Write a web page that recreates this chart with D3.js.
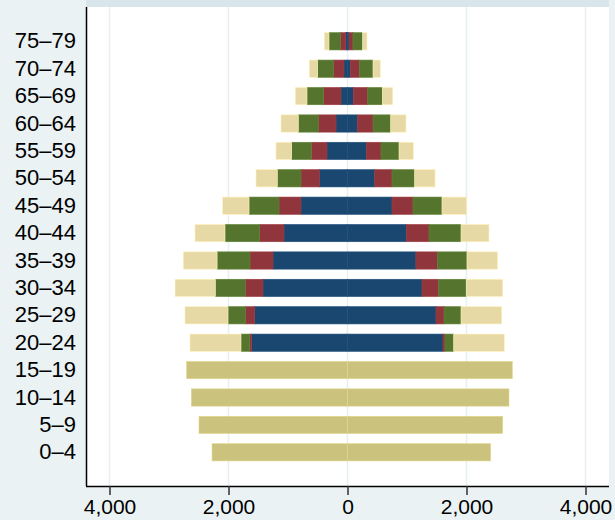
<!DOCTYPE html>
<html>
<head>
<meta charset="utf-8">
<script src="https://cdn.jsdelivr.net/npm/d3@7"></script>
<style>
  body { margin: 0; background: #eaf2f3; }
  svg { display: block; }
  .tick text { font-family: "Liberation Sans", Arial, sans-serif; font-size: 22px; fill: #000; }
  .x-axis .tick text { font-size: 21px; }
</style>
</head>
<body>
<svg id="chart" width="615" height="520"></svg>
<script>
var ageGroups = ['0–4', '5–9', '10–14', '15–19', '20–24', '25–29', '30–34', '35–39',
    '40–44', '45–49', '50–54', '55–59', '60–64', '65–69', '70–74', '75–79'];

// left side of the pyramid (drawn to negative x), segments from the centre out
var leftNavy   = [0, 0, 0, 0, 1610, 1560, 1420, 1252, 1067, 782, 474, 345, 193, 109, 59, 30];
var leftMaroon = [0, 0, 0, 0, 34, 151, 298, 387, 409, 369, 308, 263, 298, 291, 173, 91];
var leftGreen  = [0, 0, 0, 0, 146, 297, 504, 553, 583, 504, 398, 330, 336, 281, 269, 190];
var leftSand   = [0, 0, 0, 0, 857, 723, 676, 568, 504, 443, 358, 264, 291, 196, 141, 79];
var leftKhaki  = [2277, 2496, 2625, 2703, 0, 0, 0, 0, 0, 0, 0, 0, 0, 0, 0, 0];

// right side of the pyramid
var rightNavy   = [0, 0, 0, 0, 1605, 1487, 1252, 1150, 988, 748, 457, 316, 165, 97, 47, 25];
var rightMaroon = [0, 0, 0, 0, 34, 135, 277, 359, 382, 353, 291, 247, 264, 243, 151, 67];
var rightGreen  = [0, 0, 0, 0, 146, 286, 466, 499, 538, 487, 381, 303, 297, 245, 231, 163];
var rightSand   = [0, 0, 0, 0, 850, 684, 615, 516, 470, 415, 342, 240, 257, 175, 122, 73];
var rightKhaki  = [2406, 2608, 2714, 2770, 0, 0, 0, 0, 0, 0, 0, 0, 0, 0, 0, 0];

var xTicks = [-4000, -2000, 0, 2000, 4000];

var seriesColors = ['#1a476f', '#90353b', '#55752f', '#e6d9a6', '#cbc27e'];

var svg = d3.select('#chart');
var plot = { left: 86, right: 609, top: 7, bottom: 486 };

// plot region
svg.append('rect')
    .attr('x', plot.left).attr('y', 0)
    .attr('width', plot.right - plot.left).attr('height', plot.top)
    .attr('fill', '#d8e5ea');
svg.append('rect')
    .attr('x', plot.left).attr('y', plot.top)
    .attr('width', plot.right - plot.left).attr('height', plot.bottom - plot.top)
    .attr('fill', '#ffffff');

var x = d3.scaleLinear()
    .domain([-4395, 4395])
    .range([plot.left, plot.right]);

var y = d3.scaleBand()
    .domain(ageGroups.slice().reverse())
    .range([27.6, 466]);

var barH = y.bandwidth() * 0.63;

// grid
svg.append('g').selectAll('line')
    .data(xTicks)
    .enter().append('line')
    .attr('x1', function(d) { return x(d); })
    .attr('x2', function(d) { return x(d); })
    .attr('y1', plot.top).attr('y2', plot.bottom)
    .attr('stroke', '#e6eff1')
    .attr('stroke-width', 1.5);

function buildSide(lists, sign) {
    var segs = [];
    ageGroups.forEach(function(age, i) {
        var acc = 0;
        lists.forEach(function(list, k) {
            var v = list[i];
            if (v > 0) {
                segs.push({ age: age, k: k, a: sign * acc, b: sign * (acc + v) });
                acc += v;
            }
        });
    });
    return segs;
}

var segments = buildSide([leftNavy, leftMaroon, leftGreen, leftSand, leftKhaki], -1)
    .concat(buildSide([rightNavy, rightMaroon, rightGreen, rightSand, rightKhaki], 1));

svg.append('g').selectAll('rect')
    .data(segments)
    .enter().append('rect')
    .attr('x', function(d) { return x(Math.min(d.a, d.b)); })
    .attr('width', function(d) { return Math.abs(x(d.b) - x(d.a)); })
    .attr('y', function(d) { return y(d.age) + (y.bandwidth() - barH) / 2; })
    .attr('height', barH)
    .attr('fill', function(d) { return seriesColors[d.k]; })
    .attr('stroke', function(d) { return d3.color(seriesColors[d.k]).brighter(0.3); })
    .attr('stroke-width', 0.6);

// axes
var xAxis = d3.axisBottom(x)
    .tickValues(xTicks)
    .tickSize(9)
    .tickPadding(4)
    .tickFormat(function(d) { return d3.format(',')(Math.abs(d)); });

var gx = svg.append('g')
    .attr('class', 'x-axis')
    .attr('transform', 'translate(0,' + plot.bottom + ')')
    .call(xAxis);
gx.select('.domain').attr('d', 'M' + plot.left + ',0.5H' + plot.right).attr('stroke', '#000').attr('stroke-width', 1.5);
gx.selectAll('.tick line').attr('stroke', '#333').attr('stroke-width', 1.5);

var yAxis = d3.axisLeft(y).tickSize(0).tickPadding(10);
var gy = svg.append('g')
    .attr('transform', 'translate(' + plot.left + ',0)')
    .call(yAxis);
gy.select('.domain').attr('d', 'M0.5,' + plot.top + 'V' + plot.bottom).attr('stroke', '#000').attr('stroke-width', 1.5);
</script>
</body>
</html>
